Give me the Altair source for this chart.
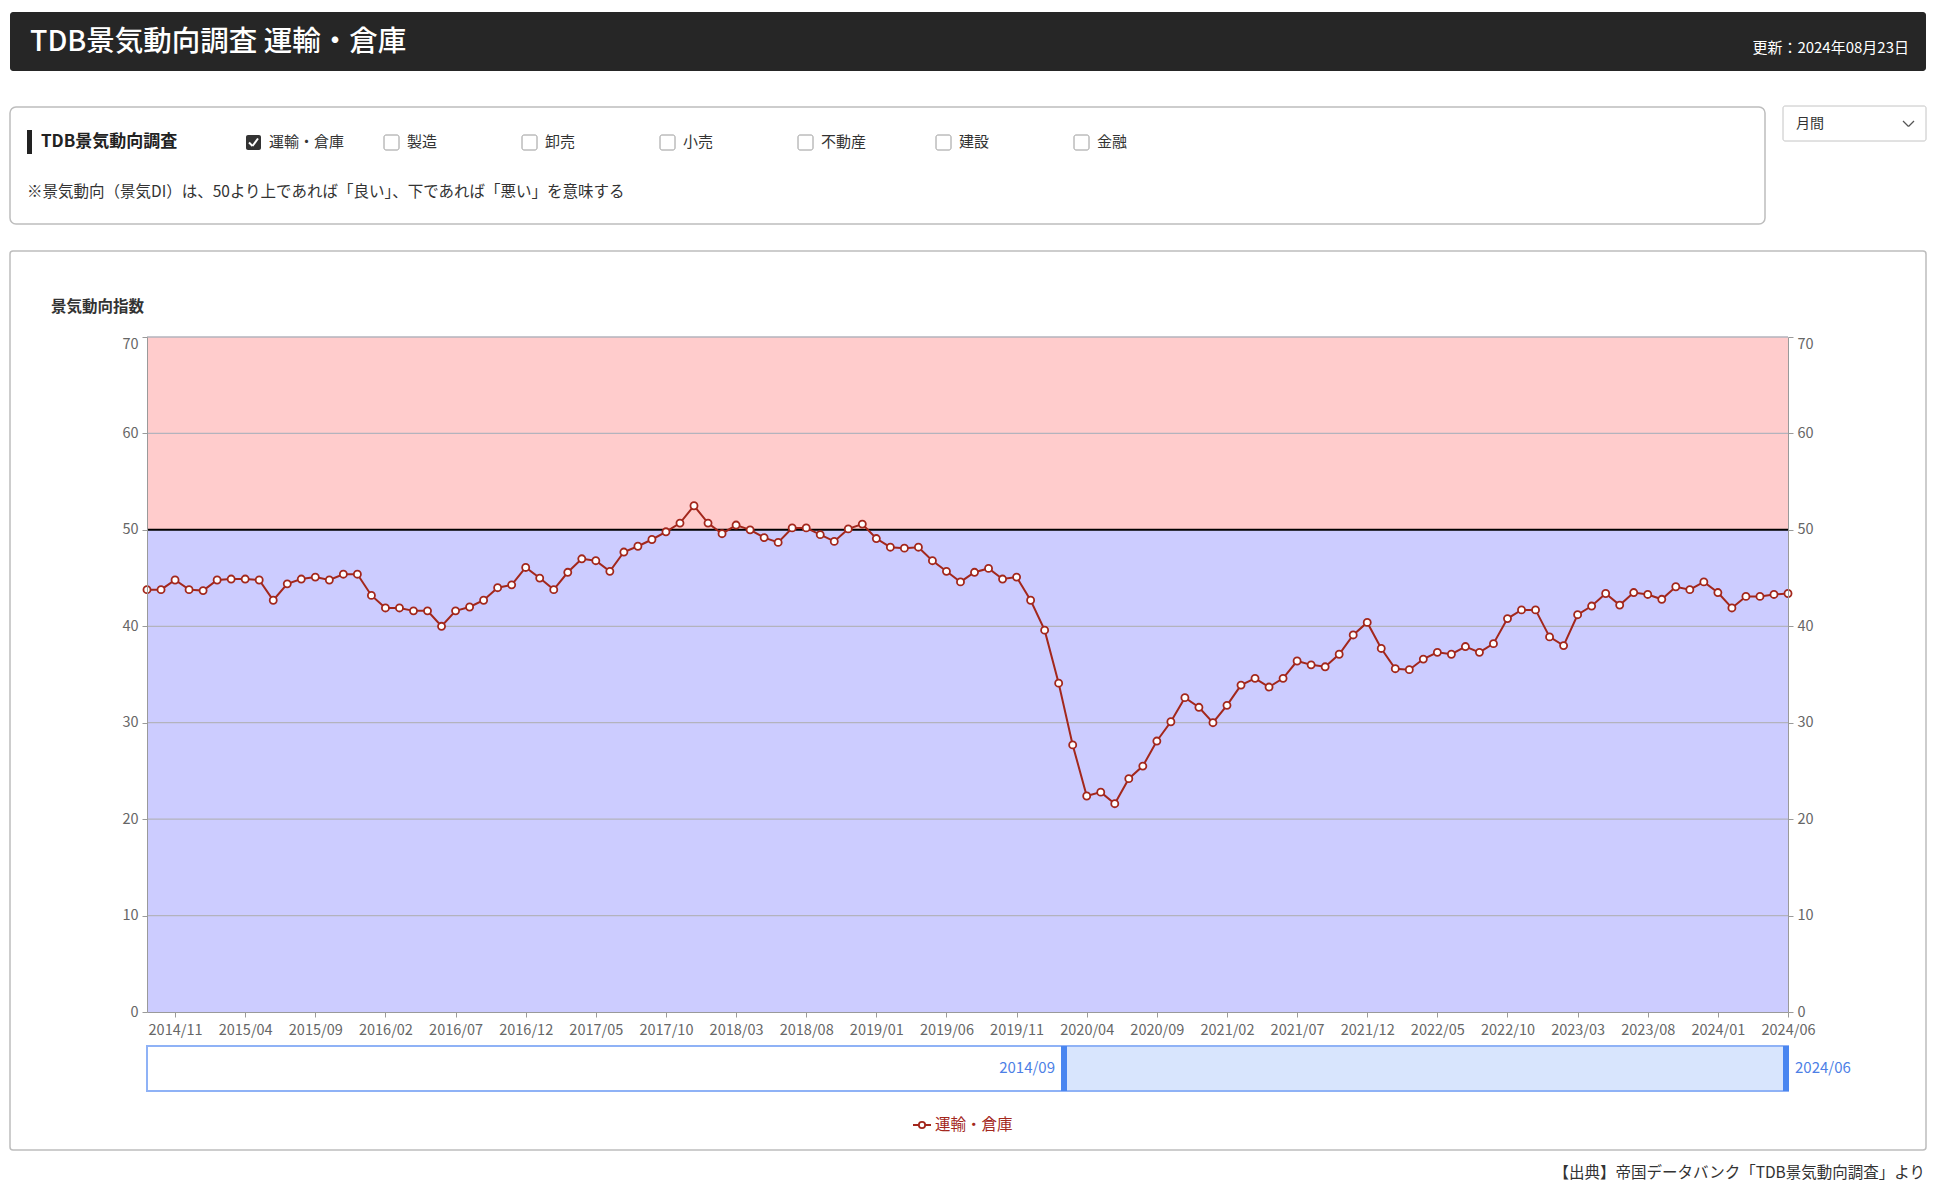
import altair as alt
import pandas as pd

FONT = "Noto Sans CJK JP"

# ---------------- data ----------------
series_name = "運輸・倉庫"
di_values = [43.8, 43.8, 44.8, 43.8, 43.7, 44.8, 44.9, 44.9, 44.8, 42.7,
             44.4, 44.9, 45.1, 44.8, 45.4, 45.4, 43.2, 41.9, 41.9, 41.6,
             41.6, 40.0, 41.6, 42.0, 42.7, 44.0, 44.3, 46.1, 45.0, 43.8,
             45.6, 47.0, 46.8, 45.7, 47.7, 48.3, 49.0, 49.8, 50.7, 52.5,
             50.7, 49.6, 50.5, 50.0, 49.2, 48.7, 50.2, 50.2, 49.5, 48.8,
             50.1, 50.6, 49.1, 48.2, 48.1, 48.2, 46.8, 45.7, 44.6, 45.6,
             46.0, 44.9, 45.1, 42.7, 39.6, 34.1, 27.7, 22.4, 22.8, 21.6,
             24.2, 25.5, 28.1, 30.1, 32.6, 31.6, 30.0, 31.8, 33.9, 34.6,
             33.7, 34.6, 36.4, 36.0, 35.8, 37.1, 39.1, 40.4, 37.7, 35.6,
             35.5, 36.6, 37.3, 37.1, 37.9, 37.3, 38.2, 40.8, 41.7, 41.7,
             38.9, 38.0, 41.2, 42.1, 43.4, 42.2, 43.5, 43.3, 42.8, 44.1,
             43.8, 44.6, 43.5, 41.9, 43.1, 43.1, 43.3, 43.4]

months = []
_y, _m = 2014, 9
for _ in di_values:
    months.append(f"{_y}/{_m:02d}")
    _m += 1
    if _m > 12:
        _m, _y = 1, _y + 1

tick_labels = months[2::5]
y_ticks = [0, 10, 20, 30, 40, 50, 60, 70]
grid_levels = [10, 20, 30, 40, 60, 70]
threshold = 50
zone_names = ["良い", "悪い"]
zone_lo = [50, 0]
zone_hi = [70, 50]
zone_colors = ["#FFCCCC", "#CCCCFF"]
checkbox_labels = ["運輸・倉庫", "製造", "卸売", "小売", "不動産", "建設", "金融"]

title_text = "TDB景気動向調査 運輸・倉庫"
update_text = "更新：2024年08月23日"
panel_title = "TDB景気動向調査"
note_text = "※景気動向（景気DI）は、50より上であれば「良い」、下であれば「悪い」を意味する"
y_title = "景気動向指数"
period_text = "月間"
range_start = "2014/09"
range_end = "2024/06"
source_text = "【出典】帝国データバンク「TDB景気動向調査」より"

# ---------------- layout ----------------
OX, OY = 147, 337          # plot origin (page px)
W, H = 1641, 675           # plot size
LINE_COLOR = "#a3271c"

df = pd.DataFrame({"month": months, "value": di_values})
zones = pd.DataFrame({"zone": zone_names, "lo": zone_lo, "hi": zone_hi})
grid_df = pd.DataFrame({"level": grid_levels})
thr_df = pd.DataFrame({"level": [threshold]})
one = pd.DataFrame({"k": [0]})

yscale = alt.Scale(domain=[0, 70], nice=False, zero=True)
xscale = alt.Scale(type="point", padding=0)


def box(x0, y0, x1, y1, fill, stroke=None, sw=1.0, r=0):
    props = dict(fill=fill, cornerRadius=r)
    if stroke:
        props.update(stroke=stroke, strokeWidth=sw)
    return alt.Chart(one).mark_rect(**props).encode(
        x=alt.value(x0 - OX), x2=alt.value(x1 - OX),
        y=alt.value(y0 - OY), y2=alt.value(y1 - OY))


def label(x, y, text, size, color, align="left", weight="normal"):
    return alt.Chart(one).mark_text(
        text=text, fontSize=size, color=color, align=align,
        baseline="middle", font=FONT, fontWeight=weight).encode(
        x=alt.value(x - OX), y=alt.value(y - OY))


def seg(x0, y0, x1, y1, color, sw):
    return alt.Chart(one).mark_rule(color=color, strokeWidth=sw).encode(
        x=alt.value(x0 - OX), x2=alt.value(x1 - OX),
        y=alt.value(y0 - OY), y2=alt.value(y1 - OY))


deco = []
# header
deco.append(box(10, 12, 1926, 71, "#262626", r=3))
deco.append(label(30, 42, title_text, 28.5, "#ffffff", weight=500))
deco.append(label(1909, 48, update_text, 15, "#ffffff", align="right"))
# control panel
deco.append(box(10, 107, 1765, 224, "#ffffff", stroke="#bdbdbd", sw=1.5, r=6))
deco.append(box(27, 130, 32, 154, "#222222"))
deco.append(label(41, 142, panel_title, 17, "#222222", weight="bold"))
cb_x = [246, 384, 522, 660, 798, 936, 1074]
for i, (cx, name) in enumerate(zip(cb_x, checkbox_labels)):
    if i == 0:
        deco.append(box(cx, 135, cx + 15, 150, "#333333", r=2))
        deco.append(seg(cx + 3, 142.5, cx + 6.5, 146, "#ffffff", 2))
        deco.append(seg(cx + 6.5, 146, cx + 12, 138.5, "#ffffff", 2))
    else:
        deco.append(box(cx, 135, cx + 15, 150, "#ffffff", stroke="#9a9a9a", sw=1, r=2))
    deco.append(label(cx + 23, 142, name, 15, "#333333"))
deco.append(label(27, 192, note_text, 15.5, "#333333"))
# period dropdown
deco.append(box(1783, 106, 1926, 141, "#ffffff", stroke="#c4c4c4", sw=1, r=2))
deco.append(label(1796, 124, period_text, 14, "#333333"))
deco.append(seg(1903, 121, 1908.5, 126.5, "#555555", 1.3))
deco.append(seg(1908.5, 126.5, 1914, 121, "#555555", 1.3))
# chart frame
deco.append(box(10, 251, 1926, 1150, "#ffffff", stroke="#bdbdbd", sw=1.5, r=3))
deco.append(label(51, 307, y_title, 15.5, "#333333", weight="bold"))
# source
deco.append(label(1925, 1173, source_text, 15.5, "#333333", align="right"))

# ---------------- plot ----------------
bg = alt.Chart(zones).mark_rect().encode(
    x=alt.value(0), x2=alt.value(W),
    y=alt.Y("lo:Q", scale=yscale, axis=None), y2="hi:Q",
    color=alt.Color("zone:N", scale=alt.Scale(domain=zone_names, range=zone_colors), legend=None))

grid = alt.Chart(grid_df).mark_rule(color="#b3b3bd", strokeWidth=1.3).encode(
    x=alt.value(0), x2=alt.value(W),
    y=alt.Y("level:Q", scale=yscale, axis=None))

thr = alt.Chart(thr_df).mark_rule(color="#000000", strokeWidth=2).encode(
    x=alt.value(0), x2=alt.value(W),
    y=alt.Y("level:Q", scale=yscale, axis=None))

axis_common = dict(labelColor="#666666", labelFontSize=14.5, labelFont=FONT,
                   tickColor="#9a9a9a", domainColor="#9a9a9a", tickSize=5,
                   zindex=1, grid=False, title=None)

top_baseline = {"condition": {"test": "datum.value == 70", "value": "top"}, "value": "middle"}

x_axis = alt.Axis(values=tick_labels, labelAngle=0, labelPadding=6, **axis_common)

line = alt.Chart(df).mark_line(color=LINE_COLOR, strokeWidth=2).encode(
    x=alt.X("month:O", sort=months, scale=xscale, axis=x_axis),
    y=alt.Y("value:Q", scale=yscale,
            axis=alt.Axis(values=y_ticks, orient="left", labelPadding=4,
                          labelBaseline=top_baseline, **axis_common)))

pts = alt.Chart(df).mark_point(filled=True, fill="#ffffff", stroke=LINE_COLOR,
                               strokeWidth=1.8, size=50, opacity=1).encode(
    x=alt.X("month:O", sort=months, scale=xscale, axis=x_axis),
    y=alt.Y("value:Q", scale=yscale,
            axis=alt.Axis(values=y_ticks, orient="right", labelPadding=4,
                          labelBaseline=top_baseline, **axis_common)))

# range slider
slider = [
    box(147, 1046, 1788, 1091, "#ffffff", stroke="#8fb2f6", sw=2),
    box(1064, 1047, 1786, 1090, "#d8e5fd"),
    box(1061, 1046, 1067, 1091, "#4a86f0"),
    box(1783, 1046, 1789, 1091, "#4a86f0"),
    label(1055, 1068, range_start, 15, "#4d7fe6", align="right"),
    label(1795, 1068, range_end, 15, "#4d7fe6"),
]

legend = [
    seg(913, 1125, 931, 1125, LINE_COLOR, 2),
    alt.Chart(one).mark_point(filled=True, fill="#ffffff", stroke=LINE_COLOR,
                              strokeWidth=1.8, size=40, opacity=1, shape="circle").encode(
        x=alt.value(922 - OX), y=alt.value(1125 - OY)),
    label(935, 1125, series_name, 15.5, LINE_COLOR),
]

chart = alt.layer(*deco, bg, grid, thr, line, pts, *slider, *legend).resolve_axis(
    y="independent"
).properties(
    width=W, height=H,
    autosize=alt.AutoSizeParams(type="none"),
    padding={"left": OX - 8, "top": OY - 8, "right": 1934 - (OX - 8) - W, "bottom": 1177 - (OY - 8) - H},
    background="#ffffff",
).configure_view(strokeWidth=0)

chart.save("out.html", embed_options={"renderer": "svg", "actions": False})
